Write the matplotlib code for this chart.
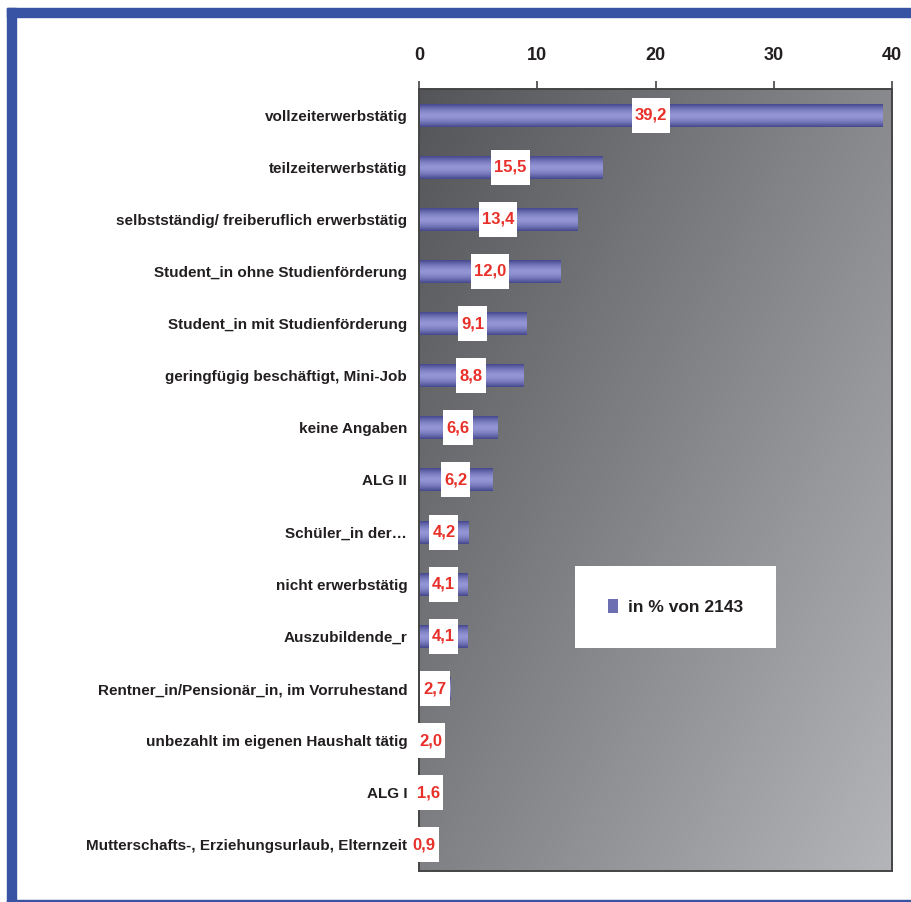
import numpy as np
import matplotlib.pyplot as plt
from matplotlib.colors import LinearSegmentedColormap
from matplotlib.patches import Rectangle

plt.rcParams['font.family'] = ['Liberation Sans', 'DejaVu Sans']

categories = [
    'vollzeiterwerbstätig',
    'teilzeiterwerbstätig',
    'selbstständig/ freiberuflich erwerbstätig',
    'Student_in ohne Studienförderung',
    'Student_in mit Studienförderung',
    'geringfügig beschäftigt, Mini-Job',
    'keine Angaben',
    'ALG II',
    'Schüler_in der…',
    'nicht erwerbstätig',
    'Auszubildende_r',
    'Rentner_in/Pensionär_in, im Vorruhestand',
    'unbezahlt im eigenen Haushalt tätig',
    'ALG I',
    'Mutterschafts-, Erziehungsurlaub, Elternzeit',
]
values = [39.2, 15.5, 13.4, 12.0, 9.1, 8.8, 6.6, 6.2, 4.2, 4.1, 4.1, 2.7, 2.0, 1.6, 0.9]
value_labels = ['39,2', '15,5', '13,4', '12,0', '9,1', '8,8', '6,6', '6,2',
                '4,2', '4,1', '4,1', '2,7', '2,0', '1,6', '0,9']
x_ticks = [0, 10, 20, 30, 40]
series_name = 'in % von 2143'

frame_blue = '#3853a4'
text_dark = '#231f20'
label_red = '#e8302a'

fig = plt.figure(figsize=(9.12, 9.02), dpi=100)
W, H = 912, 902

# blue page frame: thick top band, thick left bar, thin bottom line
fig.patches.append(Rectangle((7 / W, 1 - 17 / H), 1, 9 / H, transform=fig.transFigure,
                             color=frame_blue, zorder=0))
fig.patches.append(Rectangle((7 / W, 0), 9 / W, 1 - 8 / H, transform=fig.transFigure,
                             color=frame_blue, zorder=0))
fig.patches.append(Rectangle((7 / W, 0), 1, 2 / H, transform=fig.transFigure,
                             color=frame_blue, zorder=0))

ax = fig.add_axes([419 / W, 1 - 871 / H, 473 / W, 782 / H])

# diagonal grey gradient behind the bars
gx, gy = np.meshgrid(np.linspace(0, 1, 200), np.linspace(0, 1, 300))
shade = 0.55 * gx + 0.45 * gy
bg_cmap = LinearSegmentedColormap.from_list('bg', ['#535559', '#b3b5b8'])
ax.imshow(shade, cmap=bg_cmap, extent=[0, 1, 0, 1], transform=ax.transAxes,
          aspect='auto', origin='upper', zorder=0)

y_pos = np.arange(len(categories))
bars = ax.barh(y_pos, values, height=0.44, color='#7577bb', zorder=2,
               label=series_name)

# cylinder-style shading on each bar
t = np.linspace(-1, 1, 60)
profile = (1 - np.abs(t) ** 1.6).reshape(-1, 1)
bar_cmap = LinearSegmentedColormap.from_list('bar', ['#45488d', '#9395d5'])
for bar in bars:
    bar.set_facecolor('none')
    x0, y0 = bar.get_x(), bar.get_y()
    w, h = bar.get_width(), bar.get_height()
    ax.imshow(profile, cmap=bar_cmap, extent=[x0, x0 + w, y0 + h, y0],
              aspect='auto', zorder=2, interpolation='bilinear')

ax.set_xlim(0, 40)
ax.set_ylim(len(categories) - 0.5, -0.5)
ax.set_xticks(x_ticks)
ax.set_yticks(y_pos)
ax.set_yticklabels(categories, fontsize=11, fontweight='bold', color=text_dark)
ax.xaxis.tick_top()
ax.tick_params(axis='x', direction='out', length=6, width=1.2, color='#444444',
               pad=12, labelsize=13, labelcolor=text_dark)
for lbl in ax.get_xticklabels():
    lbl.set_fontweight('bold')
ax.tick_params(axis='y', length=0, pad=8.5)
for side in ax.spines.values():
    side.set_color('#444444')
    side.set_linewidth(1.4)

# value labels in white boxes at the middle of each bar
texts = []
for i, (v, s) in enumerate(zip(values, value_labels)):
    texts.append(ax.text(v / 2, i, s, ha='center', va='center', fontsize=12,
                         fontweight='bold', color=label_red, zorder=5))

fig.canvas.draw()
renderer = fig.canvas.get_renderer()
px_per_x = ax.bbox.width / 40
px_per_y = ax.bbox.height / len(categories)
for i, (v, txt) in enumerate(zip(values, texts)):
    bb = txt.get_window_extent(renderer)
    bw = (bb.width + 6) / px_per_x
    bh = 35 / px_per_y
    ax.add_patch(Rectangle((v / 2 - bw / 2, i - bh / 2), bw, bh, facecolor='white',
                           edgecolor='none', zorder=4, clip_on=False))

leg = ax.legend(loc='center', bbox_to_anchor=(0.543, 0.338), frameon=True,
                fancybox=False, framealpha=1, borderpad=1.9, handlelength=0.55,
                handleheight=0.9, handletextpad=0.6,
                prop={'weight': 'bold', 'size': 12.5})
leg.get_frame().set_edgecolor('none')
leg.get_frame().set_facecolor('white')
for h in leg.legend_handles:
    h.set_facecolor('#6d6fb3')
    h.set_edgecolor('none')
for lt in leg.get_texts():
    lt.set_color(text_dark)

fig.savefig('out.png', dpi=100)
